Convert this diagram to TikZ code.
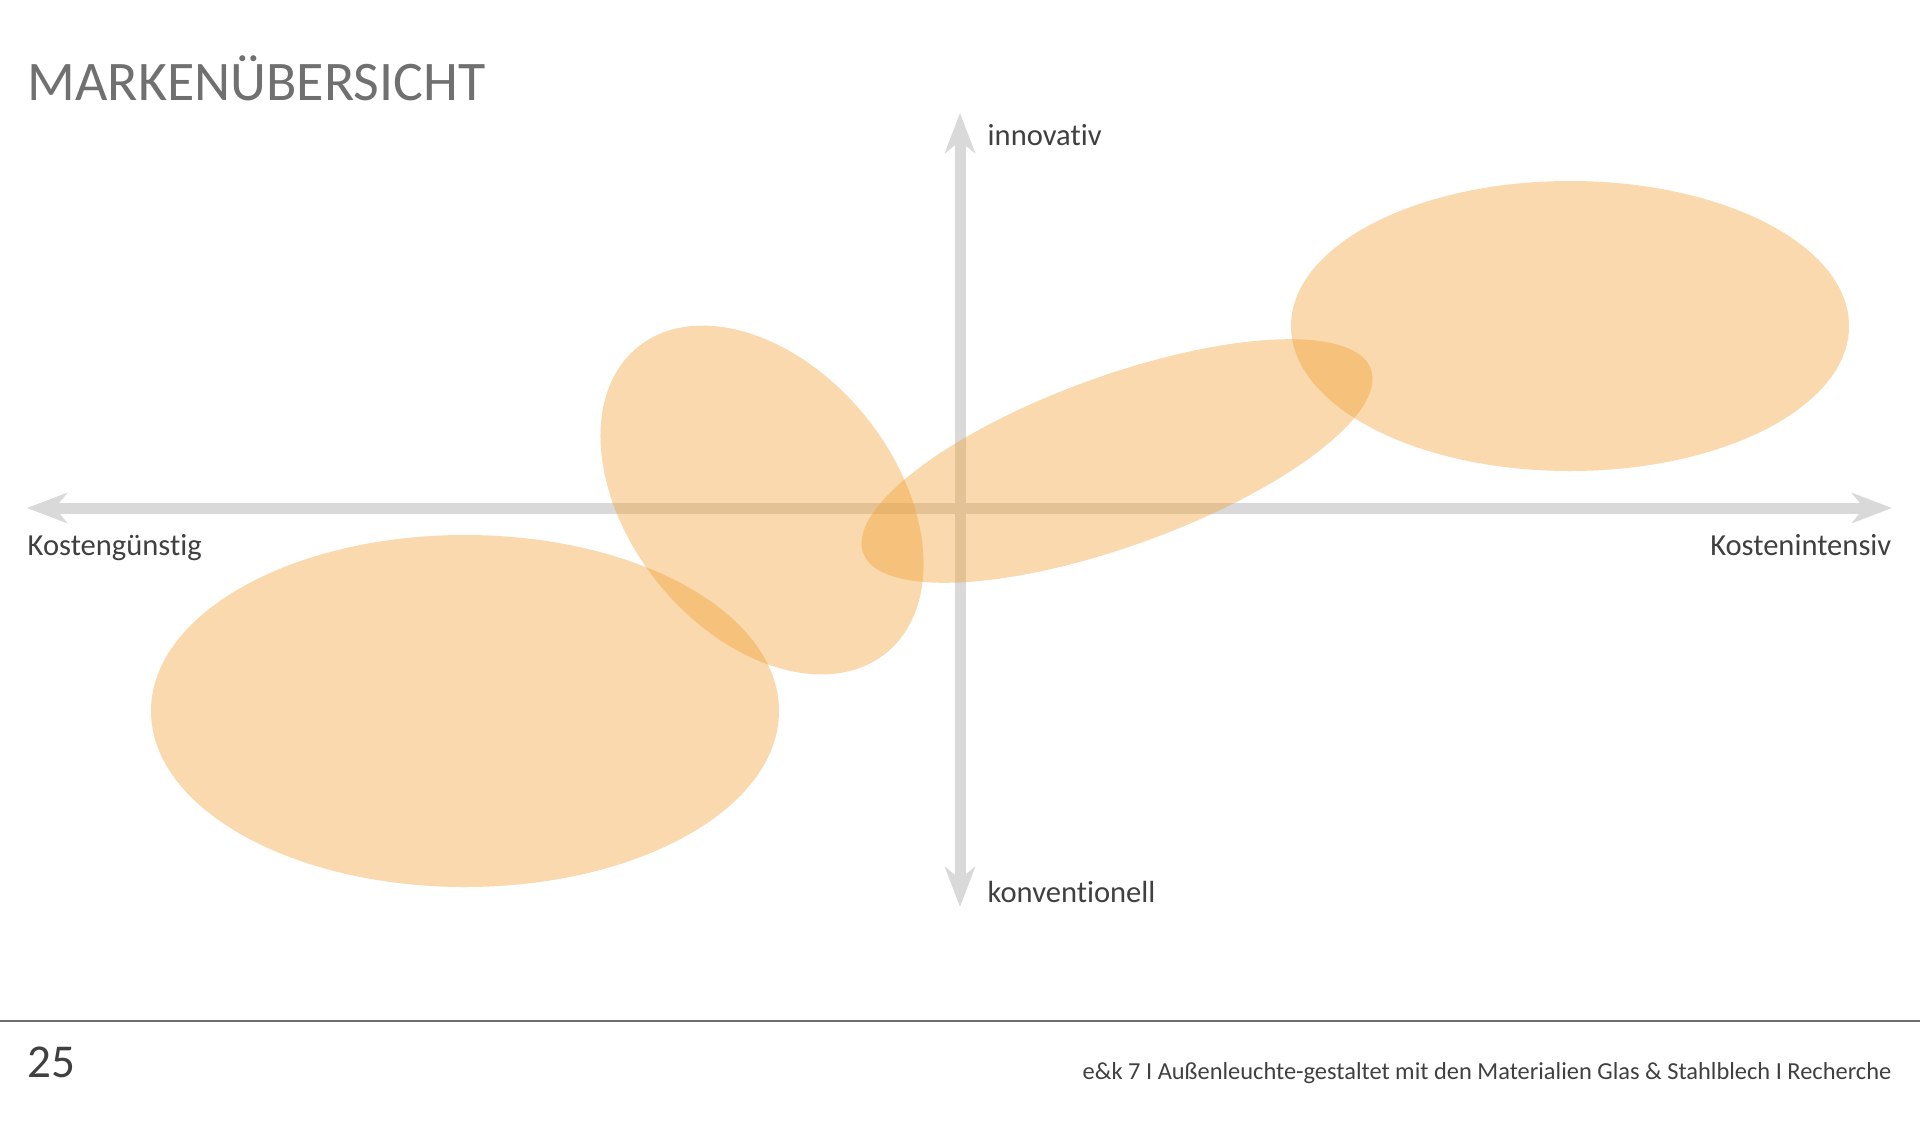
\documentclass[tikz,border=0pt]{standalone}
\usepackage{fontspec}
\setmainfont[Ligatures=NoCommon]{Carlito}
\usepackage{tikz}
\usetikzlibrary{arrows.meta,positioning}
\usepackage{xcolor}
\definecolor{axisgrey}{RGB}{217,217,217}
\definecolor{titlegrey}{RGB}{112,112,112}
\definecolor{textgrey}{RGB}{64,64,64}
\definecolor{rulegrey}{RGB}{110,110,110}
\definecolor{brandorange}{RGB}{242,160,50}

\begin{document}
\begin{tikzpicture}[
    axis/.style={line width=0.11cm, axisgrey,
                 {Stealth[length=0.40cm, width=0.30cm, inset=0.12cm]}-{Stealth[length=0.40cm, width=0.30cm, inset=0.12cm]}},
    blob/.style={fill=brandorange, fill opacity=0.4},
    pole/.style={inner sep=0pt, text=textgrey, font=\fontsize{8.7pt}{10pt}\selectfont},
    every node/.style={inner sep=0pt}]
    \useasboundingbox[fill=white] (0,0) rectangle (19.2,-11.2);

    % axes
    \coordinate (west)  at (0.27,-5.08);
    \coordinate (east)  at (18.92,-5.08);
    \coordinate (north) at (9.60,-1.13);
    \coordinate (south) at (9.60,-9.07);
    \draw[axis] (west) -- (east);
    \draw[axis] (north) -- (south);

    % brand clusters
    \fill[blob] (4.65,-7.11) ellipse [x radius=3.14, y radius=1.76];
    \fill[blob] (7.62,-5.00) ellipse [x radius=1.97, y radius=1.33, rotate=-50.9];
    \fill[blob] (11.17,-4.61) ellipse [x radius=2.70, y radius=0.85, rotate=19.9];
    \fill[blob] (15.70,-3.26) ellipse [x radius=2.79, y radius=1.45];

    % axis labels
    \node[pole, anchor=base west] (innov) at (9.87,-1.45) {innovativ};
    \node[pole, anchor=base west] (konv)  at (9.87,-9.02) {konventionell};
    \node[pole, anchor=base west] (guenstig) at (0.27,-5.55) {Kostengünstig};
    \node[pole, anchor=base east] (intensiv) at (18.92,-5.55) {Kostenintensiv};

    % title and footer
    \node[anchor=base west, text=titlegrey, font=\fontsize{15.9pt}{18pt}\selectfont]
          (title) at (0.27,-1.00) {MARKENÜBERSICHT};
    \draw[rulegrey, line width=0.4pt] (0,-10.21) -- (19.2,-10.21);
    \node[anchor=base west, text=textgrey, font=\fontsize{13.4pt}{15pt}\selectfont]
          (page) at (0.27,-10.77) {25};
    \node[anchor=base east, text=textgrey, font=\fontsize{6.95pt}{8pt}\selectfont]
          (footer) at (18.92,-10.79)
          {e\&k 7 I Außenleuchte-gestaltet mit den Materialien Glas \& Stahlblech I Recherche};
\end{tikzpicture}
\end{document}
